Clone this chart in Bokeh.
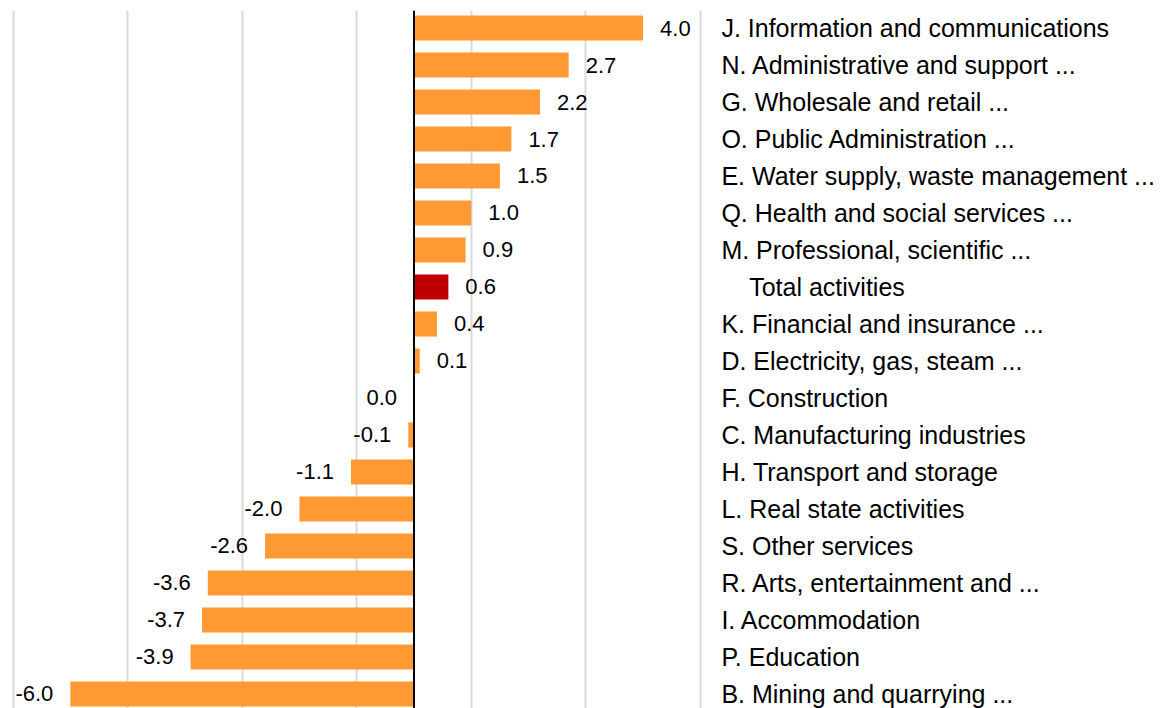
from bokeh.plotting import figure
from bokeh.models import Range1d, FixedTicker, Grid, Span, ColumnDataSource
from bokeh.core.properties import value
from bokeh.embed import file_html
from bokeh.resources import INLINE

# ---- data (top to bottom) ----
categories = [
    "J. Information and communications",
    "N. Administrative and support ...",
    "G. Wholesale and retail ...",
    "O. Public Administration ...",
    "E. Water supply, waste management ...",
    "Q. Health and social services ...",
    "M. Professional, scientific ...",
    "\u00a0\u00a0\u00a0\u00a0Total activities",
    "K. Financial and insurance ...",
    "D. Electricity, gas, steam ...",
    "F. Construction",
    "C. Manufacturing industries",
    "H. Transport and storage",
    "L. Real state activities",
    "S. Other services",
    "R. Arts, entertainment and ...",
    "I. Accommodation",
    "P. Education",
    "B. Mining and quarrying ...",
]
values = [4.0, 2.7, 2.2, 1.7, 1.5, 1.0, 0.9, 0.6, 0.4, 0.1, 0.0,
          -0.1, -1.1, -2.0, -2.6, -3.6, -3.7, -3.9, -6.0]
highlight_index = 7  # Total activities

x_ticks = [-7, -5, -3, -1, 1, 3, 5]
X_MAX = 5

BAR_COLOR = "#FF9933"
TOTAL_COLOR = "#C00000"

n = len(categories)
ys = list(range(n))
colors = [TOTAL_COLOR if i == highlight_index else BAR_COLOR for i in ys]
val_text = [f"{v:.1f}" for v in values]
val_align = ["left" if v > 0 else "right" for v in values]
val_off = [17 if v > 0 else -17 for v in values]

src = ColumnDataSource(dict(y=ys, v=values, color=colors, vt=val_text,
                            va=val_align, vo=val_off, cat=categories,
                            cx=[X_MAX] * n))

W, H = 1170, 708
p = figure(width=W, height=H, output_backend="svg", toolbar_location=None,
           x_axis_location=None, y_axis_location=None,
           x_range=Range1d(-7.219, 13.207), y_range=Range1d(18.392, -0.473),
           min_border_left=0, min_border_right=0, min_border_top=10,
           min_border_bottom=0, outline_line_color=None,
           background_fill_color="white", border_fill_color="white")
p.grid.visible = False

grid = Grid(dimension=0, ticker=FixedTicker(ticks=x_ticks),
            grid_line_color="#d9d9d9", grid_line_width=2)
p.add_layout(grid)

p.hbar(y="y", left=0, right="v", height=0.68, fill_color="color",
       line_color=None, source=src)

p.add_layout(Span(location=0, dimension="height", line_color="black",
                  line_width=2))

p.text(x="v", y="y", text="vt", text_align="va", x_offset="vo",
       text_baseline="middle", text_font=value("Liberation Sans"),
       text_font_size="22px", text_color="black", source=src)

p.text(x="cx", y="y", text="cat", text_align="left", x_offset=21,
       text_baseline="middle", text_font=value("Liberation Sans"),
       text_font_size="25px", text_color="black", source=src)

open("out.html", "w").write(file_html(p, INLINE))
